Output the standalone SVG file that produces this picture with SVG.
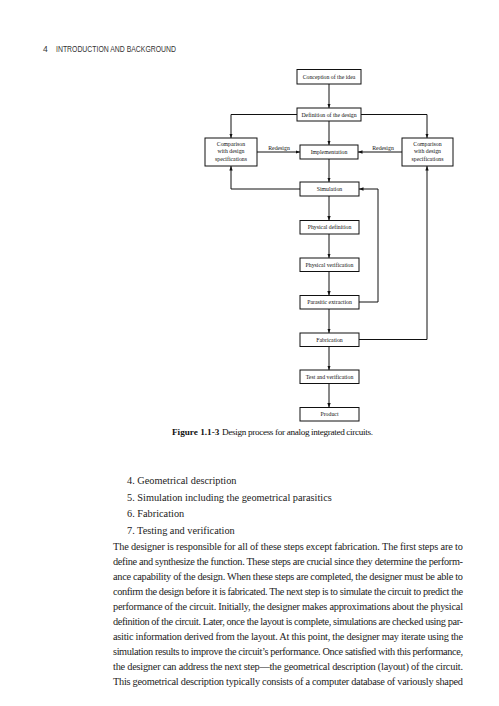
<svg xmlns="http://www.w3.org/2000/svg" width="499" height="706" viewBox="0 0 499 706">
<defs>
<marker id="ah" viewBox="0 0 8 6" refX="8" refY="3" markerWidth="4.5" markerHeight="3.5" orient="auto" markerUnits="userSpaceOnUse">
<path d="M0,0 L8,3 L0,6 z" fill="#111"/>
</marker>
<style>
.bx{fill:#fff;stroke:#111;stroke-width:1}
.bt{font-family:"Liberation Serif",serif;font-size:5.8px;fill:#111;text-anchor:middle}
.ar{fill:none;stroke:#111;stroke-width:1;marker-end:url(#ah)}
.tx{font-family:"Liberation Serif",serif;font-size:10.3px;fill:#222}
.cp{font-family:"Liberation Serif",serif;font-size:9.2px;fill:#111}
.hd{font-family:"Liberation Sans",sans-serif;font-size:8.5px;fill:#333}
</style>
</defs>
<rect width="499" height="706" fill="#fff"/>
<text class="hd" x="43" y="51.5">4</text>
<text class="hd" x="56" y="51.5" textLength="120" lengthAdjust="spacingAndGlyphs">INTRODUCTION AND BACKGROUND</text>

<g id="connectors">
<line class="ar" x1="329" y1="84" x2="329" y2="108"/>
<line class="ar" x1="329" y1="121" x2="329" y2="145"/>
<polyline class="ar" points="297,114.5 231,114.5 231,138"/>
<polyline class="ar" points="361,114.5 427,114.5 427,138"/>
<line class="ar" x1="257" y1="152" x2="300" y2="152"/>
<line class="ar" x1="402" y1="152" x2="358" y2="152"/>
<line class="ar" x1="329" y1="159" x2="329" y2="182"/>
<polyline class="ar" points="300,189 231,189 231,166"/>
<line class="ar" x1="329" y1="196" x2="329" y2="220.5"/>
<line class="ar" x1="329" y1="234" x2="329" y2="258"/>
<line class="ar" x1="329" y1="271.5" x2="329" y2="295.5"/>
<polyline class="ar" points="359,302 378,302 378,189 359,189"/>
<line class="ar" x1="329" y1="309" x2="329" y2="333"/>
<polyline class="ar" points="359,339.5 427,339.5 427,166"/>
<line class="ar" x1="329" y1="346" x2="329" y2="370"/>
<line class="ar" x1="329" y1="383.5" x2="329" y2="407.5"/>
<text class="bt" x="279" y="149.5">Redesign</text>
<text class="bt" x="383" y="149.5">Redesign</text>
</g>

<g id="conception"><rect class="bx" x="297" y="69.5" width="64" height="14.5"/><text class="bt" x="329" y="78.8">Conception of the idea</text></g>
<g id="definition"><rect class="bx" x="297" y="108" width="64" height="13"/><text class="bt" x="329" y="116.5">Definition of the design</text></g>
<g id="comparison-left"><rect class="bx" x="205" y="138" width="52" height="28"/><text class="bt" x="231" y="145.5">Comparison</text><text class="bt" x="231" y="153">with design</text><text class="bt" x="231" y="160.5">specifications</text></g>
<g id="implementation"><rect class="bx" x="300" y="145" width="58" height="14"/><text class="bt" x="329" y="154">Implementation</text></g>
<g id="comparison-right"><rect class="bx" x="402" y="138" width="51" height="28"/><text class="bt" x="427.5" y="145.5">Comparison</text><text class="bt" x="427.5" y="153">with design</text><text class="bt" x="427.5" y="160.5">specifications</text></g>
<g id="simulation"><rect class="bx" x="300" y="182" width="59" height="14"/><text class="bt" x="329.5" y="191">Simulation</text></g>
<g id="physical-definition"><rect class="bx" x="300" y="220.5" width="59" height="13.5"/><text class="bt" x="329.5" y="229.3">Physical definition</text></g>
<g id="physical-verification"><rect class="bx" x="300" y="258" width="59" height="13.5"/><text class="bt" x="329.5" y="266.8">Physical verification</text></g>
<g id="parasitic-extraction"><rect class="bx" x="300" y="295.5" width="59" height="13.5"/><text class="bt" x="329.5" y="304.3">Parasitic extraction</text></g>
<g id="fabrication"><rect class="bx" x="300" y="333" width="59" height="13.5"/><text class="bt" x="329.5" y="341.8">Fabrication</text></g>
<g id="test-verification"><rect class="bx" x="300" y="370" width="59" height="13.5"/><text class="bt" x="329.5" y="378.8">Test and verification</text></g>
<g id="product"><rect class="bx" x="300" y="407.5" width="59" height="13.5"/><text class="bt" x="329.5" y="416.3">Product</text></g>

<text class="cp" x="172" y="435" font-weight="bold">Figure 1.1-3</text>
<text class="cp" x="222" y="435" textLength="151" lengthAdjust="spacing">Design process for analog integrated circuits.</text>

<g>
<text class="tx" x="127" y="484">4.  Geometrical description</text>
<text class="tx" x="127" y="500.5">5.  Simulation including the geometrical parasitics</text>
<text class="tx" x="127" y="517">6.  Fabrication</text>
<text class="tx" x="127" y="533.5">7.  Testing and verification</text>
<text class="tx" x="113" y="550" textLength="350" lengthAdjust="spacing">The designer is responsible for all of these steps except fabrication. The first steps are to</text>
<text class="tx" x="113" y="565" textLength="350" lengthAdjust="spacing">define and synthesize the function. These steps are crucial since they determine the perform-</text>
<text class="tx" x="113" y="580" textLength="350" lengthAdjust="spacing">ance capability of the design. When these steps are completed, the designer must be able to</text>
<text class="tx" x="113" y="595" textLength="350" lengthAdjust="spacing">confirm the design before it is fabricated. The next step is to simulate the circuit to predict the</text>
<text class="tx" x="113" y="610" textLength="350" lengthAdjust="spacing">performance of the circuit. Initially, the designer makes approximations about the physical</text>
<text class="tx" x="113" y="625" textLength="350" lengthAdjust="spacing">definition of the circuit. Later, once the layout is complete, simulations are checked using par-</text>
<text class="tx" x="113" y="640" textLength="350" lengthAdjust="spacing">asitic information derived from the layout. At this point, the designer may iterate using the</text>
<text class="tx" x="113" y="655" textLength="350" lengthAdjust="spacing">simulation results to improve the circuit’s performance. Once satisfied with this performance,</text>
<text class="tx" x="113" y="670" textLength="350" lengthAdjust="spacing">the designer can address the next step—the geometrical description (layout) of the circuit.</text>
<text class="tx" x="113" y="685" textLength="350" lengthAdjust="spacing">This geometrical description typically consists of a computer database of variously shaped</text>
</g>
</svg>
